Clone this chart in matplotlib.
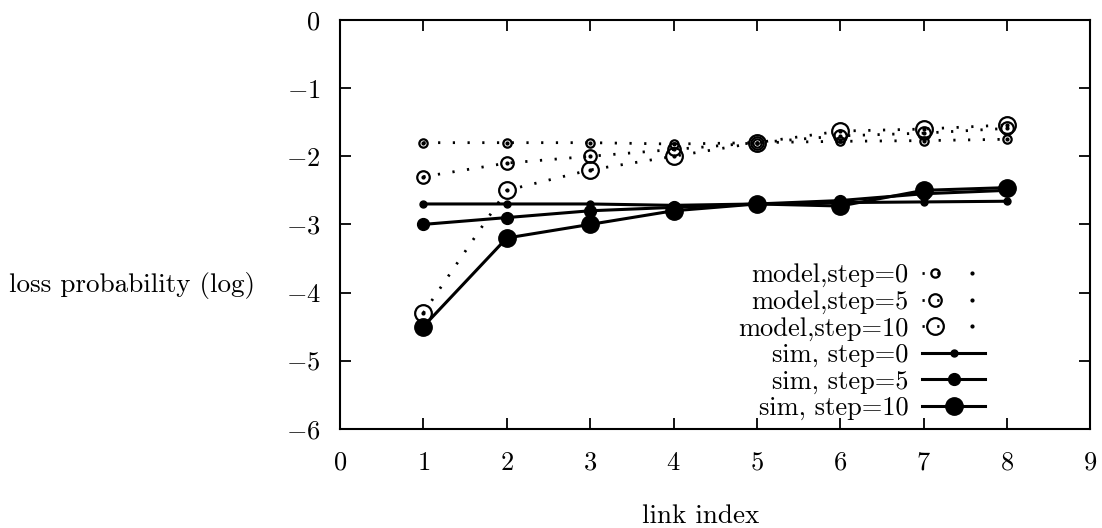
import matplotlib
matplotlib.use("Agg")
import matplotlib.pyplot as plt
from matplotlib.legend_handler import HandlerTuple

plt.rcParams['font.family'] = ['cmr10', 'DejaVu Serif']
plt.rcParams['mathtext.fontset'] = 'cm'
plt.rcParams['axes.formatter.use_mathtext'] = True

# link index
links = [1, 2, 3, 4, 5, 6, 7, 8]

# model curves (log loss probability)
model_step0 = [-1.8, -1.8, -1.8, -1.82, -1.8, -1.78, -1.77, -1.75]
model_step5 = [-2.3, -2.1, -2.0, -1.9, -1.8, -1.7, -1.66, -1.59]
model_step10 = [-4.3, -2.5, -2.2, -2.0, -1.8, -1.63, -1.6, -1.54]

# simulation curves
sim_step0 = [-2.7, -2.7, -2.7, -2.72, -2.7, -2.68, -2.67, -2.66]
sim_step5 = [-3.0, -2.9, -2.8, -2.75, -2.7, -2.65, -2.55, -2.5]
sim_step10 = [-4.5, -3.2, -3.0, -2.8, -2.7, -2.73, -2.5, -2.46]

fig = plt.figure(figsize=(11.02, 5.28), dpi=100)
ax = fig.add_axes([0.3085, 0.188, 0.681, 0.774])

handles = []
labels = []

# model: dotted lines, open circles with a centre dot
for ys, ms, lab in [(model_step0, 6, 'model,step=0'),
                    (model_step5, 9, 'model,step=5'),
                    (model_step10, 12, 'model,step=10')]:
    ln, = ax.plot(links, ys, color='black', linestyle=(0, (0.8, 4.5)), lw=2.0,
                  marker='o', markersize=ms, markerfacecolor='none',
                  markeredgecolor='black', markeredgewidth=1.6)
    dot, = ax.plot(links, ys, linestyle='none', marker='o', markersize=2,
                   color='black')
    handles.append((ln, dot))
    labels.append(lab)

# sim: solid lines, filled circles
for ys, ms, lab in [(sim_step0, 5, 'sim, step=0'),
                    (sim_step5, 8.5, 'sim, step=5'),
                    (sim_step10, 12.5, 'sim, step=10')]:
    ln, = ax.plot(links, ys, color='black', linestyle='-', lw=2.2,
                  marker='o', markersize=ms, markerfacecolor='black',
                  markeredgecolor='black')
    handles.append(ln)
    labels.append(lab)

ax.set_xlim(0, 9)
ax.set_ylim(-6, 0)
ax.set_xticks(range(0, 10))
ax.set_yticks(range(-6, 1))
ax.tick_params(direction='in', length=8, width=1.3, top=True, right=True,
               labelsize=19)
ax.tick_params(axis='x', pad=16)
ax.tick_params(axis='y', pad=14)
for s in ax.spines.values():
    s.set_linewidth(1.5)

leg = ax.legend(handles, labels, handler_map={tuple: HandlerTuple(ndivide=None)},
                loc='lower right', bbox_to_anchor=(0.874, -0.005), markerfirst=False,
                frameon=False, fontsize=19, handlelength=2.4, labelspacing=0.1,
                handletextpad=0.5, borderaxespad=0.0)
for t in leg.get_texts():
    t.set_ha('right')
leg._legend_box.align = 'right'

fig.text(0.12, 0.46, 'loss probability (log)', fontsize=19.5, ha='center', va='center')
fig.text(0.636, 0.022, 'link index', fontsize=19.5, ha='center', va='center')

fig.savefig('out.png', dpi=100)
